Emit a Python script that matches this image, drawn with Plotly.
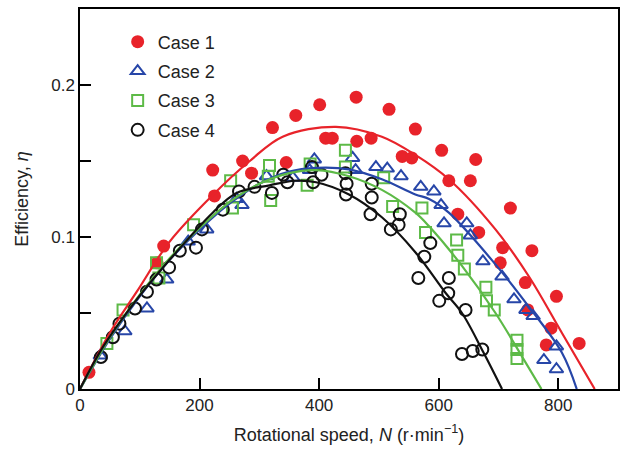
import plotly.graph_objects as go

# ---- data ----
case1_N = [15, 129, 140, 222, 225, 272, 287, 322, 345, 361, 401, 411, 422, 462, 463, 487, 517, 539, 555, 561,
           605, 617, 632, 653, 662, 667, 703, 707, 720, 745, 749, 756, 780, 788, 797, 835]
case1_eta = [0.011, 0.083, 0.094, 0.144, 0.127, 0.150, 0.142, 0.172, 0.149, 0.180, 0.187, 0.165, 0.165, 0.192,
             0.163, 0.165, 0.184, 0.153, 0.152, 0.171, 0.157, 0.137, 0.115, 0.137, 0.151, 0.103, 0.083, 0.093,
             0.119, 0.070, 0.052, 0.091, 0.029, 0.040, 0.061, 0.030]

case2_N = [34, 75, 112, 145, 181, 212, 262, 271, 312, 356, 384, 392, 456, 461, 495, 514, 537, 570, 592, 604,
           609, 647, 653, 674, 706, 726, 746, 758, 776, 797, 797]
case2_eta = [0.022, 0.038, 0.053, 0.072, 0.097, 0.105, 0.125, 0.121, 0.140, 0.139, 0.144, 0.151, 0.152, 0.144,
             0.146, 0.145, 0.140, 0.133, 0.130, 0.121, 0.109, 0.109, 0.101, 0.084, 0.074, 0.059, 0.052, 0.048,
             0.019, 0.028, 0.013]

case3_N = [45, 72, 128, 132, 190, 252, 255, 317, 315, 319, 380, 385, 444, 444, 508, 523, 572, 578, 630, 632,
           643, 679, 680, 693, 731, 731, 731]
case3_eta = [0.030, 0.052, 0.083, 0.073, 0.108, 0.137, 0.119, 0.147, 0.140, 0.124, 0.134, 0.148, 0.157, 0.146,
             0.139, 0.120, 0.119, 0.103, 0.098, 0.088, 0.079, 0.067, 0.058, 0.052, 0.032, 0.026, 0.020]

case4_N = [35, 55, 66, 92, 112, 128, 149, 167, 194, 204, 239, 266, 292, 321, 340, 347, 388, 390, 404, 444, 445,
           446, 488, 488, 486, 520, 535, 533, 576, 586, 566, 601, 616, 617, 645, 639, 657, 673]
case4_eta = [0.021, 0.034, 0.043, 0.053, 0.064, 0.072, 0.080, 0.091, 0.093, 0.105, 0.118, 0.130, 0.133, 0.129,
             0.141, 0.136, 0.146, 0.136, 0.141, 0.142, 0.128, 0.135, 0.135, 0.126, 0.115, 0.105, 0.115, 0.108,
             0.087, 0.096, 0.073, 0.058, 0.063, 0.073, 0.052, 0.023, 0.025, 0.026]

# fitted curves
fit1_N = [0, 50, 95, 150, 223, 284, 339, 428, 505, 561, 617, 695, 751, 806, 861]
fit1_eta = [0, 0.037, 0.064, 0.097, 0.128, 0.150, 0.166, 0.1725, 0.166, 0.154, 0.138, 0.105, 0.074, 0.037, 0]

fit2_N = [0, 50, 100, 150, 200, 250, 300, 350, 395, 450, 505, 561, 584, 617, 695, 751, 806, 831]
fit2_eta = [0, 0.033, 0.061, 0.085, 0.105, 0.122, 0.135, 0.143, 0.1455, 0.1445, 0.138, 0.128, 0.125, 0.116,
            0.082, 0.054, 0.024, 0]

fit3_N = [0, 50, 100, 150, 200, 250, 300, 350, 395, 450, 505, 561, 584, 639, 695, 740, 772]
fit3_eta = [0, 0.034, 0.062, 0.086, 0.106, 0.123, 0.135, 0.142, 0.144, 0.140, 0.131, 0.116, 0.107, 0.081,
            0.050, 0.021, 0]

fit4_N = [0, 39, 95, 150, 222, 262, 317, 360, 395, 450, 505, 561, 612, 639, 675, 706]
fit4_eta = [0, 0.028, 0.059, 0.085, 0.116, 0.129, 0.134, 0.137, 0.136, 0.128, 0.113, 0.090, 0.063, 0.050,
            0.024, 0]

x_ticks = [0, 200, 400, 600, 800]
y_ticks = [0, 0.1, 0.2]
y_tick_text = ["0", "0.1", "0.2"]
y_minor = [0.05, 0.15]

RED = "#e8232a"
BLUE = "#2746a8"
GREEN = "#5dba47"
BLACK = "#111111"

FONT = "Liberation Sans, Arial, sans-serif"

fig = go.Figure()

cases = [
    ("Case 1", case1_N, case1_eta, RED, "circle", 13, 0),
    ("Case 2", case2_N, case2_eta, BLUE, "triangle-up-open", 12, 2),
    ("Case 3", case3_N, case3_eta, GREEN, "square-open", 11, 2),
    ("Case 4", case4_N, case4_eta, BLACK, "circle-open", 12, 2),
]
for name, xs, ys, col, sym, sz, lw in cases:
    fig.add_trace(go.Scatter(
        x=xs, y=ys, mode="markers", name=name, legendgroup=name,
        marker=dict(symbol=sym, size=sz, color=col, line=dict(color=col, width=lw)),
    ))

fits = [(fit1_N, fit1_eta, RED), (fit2_N, fit2_eta, BLUE), (fit3_N, fit3_eta, GREEN), (fit4_N, fit4_eta, BLACK)]
for xs, ys, col in fits:
    fig.add_trace(go.Scatter(
        x=xs, y=ys, mode="lines", line=dict(color=col, width=2.2, shape="spline", smoothing=1.0),
        showlegend=False, hoverinfo="skip",
    ))

fig.update_layout(
    width=622, height=452,
    margin=dict(l=80, r=2, t=9, b=63),
    paper_bgcolor="white", plot_bgcolor="white",
    font=dict(family=FONT, size=17, color="#222222"),
    showlegend=True,
    legend=dict(x=0.07, y=0.962, xanchor="left", yanchor="top", bgcolor="rgba(0,0,0,0)",
                font=dict(size=18, family=FONT, color="#222222"), tracegroupgap=3,
                traceorder="grouped"),
    xaxis=dict(
        range=[0, 900], tickvals=x_ticks, ticks="inside", ticklen=11, tickwidth=1.5, tickcolor="black",
        showline=True, linecolor="black", linewidth=1.5, mirror=True, showgrid=False, zeroline=False,
        title=dict(text="Rotational speed, <i>N</i> (r·min<sup>−1</sup>)", font=dict(size=18), standoff=14),
        tickfont=dict(size=17),
    ),
    yaxis=dict(
        range=[0, 0.25], tickvals=y_ticks, ticktext=y_tick_text, ticks="inside", ticklen=11, tickwidth=1.5,
        tickcolor="black",
        minor=dict(tickvals=y_minor, ticks="inside", ticklen=11, tickwidth=1.5, tickcolor="black"),
        showline=True, linecolor="black", linewidth=1.5, mirror=True, showgrid=False, zeroline=False,
        title=dict(text="Efficiency, <i>η</i>", font=dict(size=18), standoff=18),
        tickfont=dict(size=17),
    ),
)

fig.write_html("out.html")
